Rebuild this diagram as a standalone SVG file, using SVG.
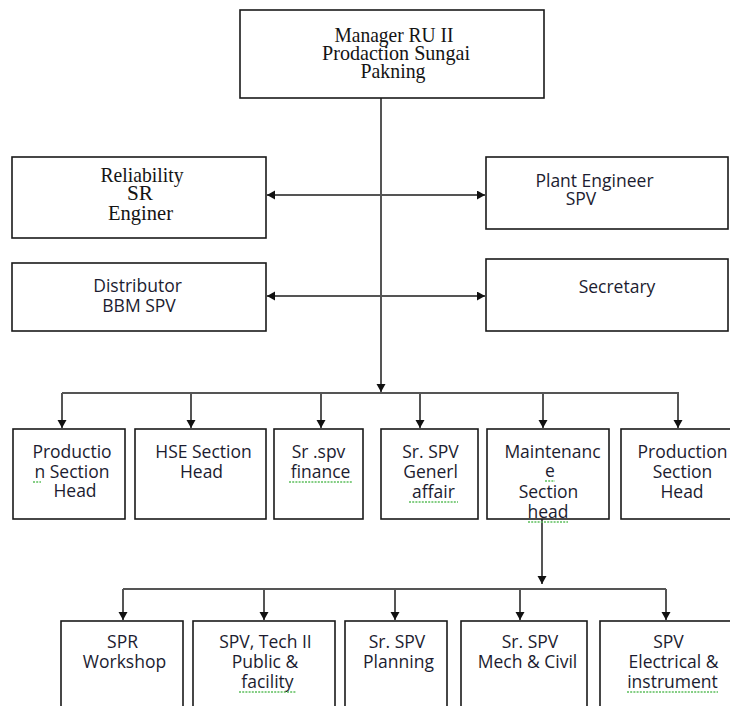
<svg xmlns="http://www.w3.org/2000/svg" width="730" height="706" viewBox="0 0 730 706">
<style>
.box{fill:#fff;stroke:#1a1a1a;stroke-width:1.6}
.serif{font-family:"Liberation Serif","Times New Roman",serif;font-size:22px;fill:#141414;text-anchor:middle}
.sans{font-family:"Open Sans","Noto Sans",sans-serif;font-size:17.5px;fill:#1c1c30;text-anchor:middle}
.con{fill:none;stroke:#555;stroke-width:2}
.sq{fill:none;stroke:#5cbf5c;stroke-width:1.4;stroke-dasharray:2 1.2}
</style>
<defs>
<marker id="ah" markerUnits="userSpaceOnUse" markerWidth="10" markerHeight="10" refX="8" refY="4.5" orient="auto-start-reverse">
<path d="M0,0 L8,4.5 L0,9 Z" fill="#111"/>
</marker>
</defs>
<rect width="730" height="706" fill="#fff"/>

<g id="connectors">
<path class="con" d="M381,98 V392" marker-end="url(#ah)"/>
<path class="con" d="M267,195 H485" marker-start="url(#ah)" marker-end="url(#ah)"/>
<path class="con" d="M267,296 H485" marker-start="url(#ah)" marker-end="url(#ah)"/>
<path class="con" d="M62,393 H679"/>
<path class="con" d="M62,393 V428" marker-end="url(#ah)"/>
<path class="con" d="M191,393 V428" marker-end="url(#ah)"/>
<path class="con" d="M321,393 V428" marker-end="url(#ah)"/>
<path class="con" d="M420,393 V428" marker-end="url(#ah)"/>
<path class="con" d="M543,393 V428" marker-end="url(#ah)"/>
<path class="con" d="M678,393 V428" marker-end="url(#ah)"/>
<path class="con" d="M542,519 V584" marker-end="url(#ah)"/>
<path class="con" d="M123,589 H666"/>
<path class="con" d="M123,589 V620" marker-end="url(#ah)"/>
<path class="con" d="M264,589 V620" marker-end="url(#ah)"/>
<path class="con" d="M395,589 V620" marker-end="url(#ah)"/>
<path class="con" d="M520,589 V620" marker-end="url(#ah)"/>
<path class="con" d="M666,589 V620" marker-end="url(#ah)"/>
</g>

<g id="manager">
<rect class="box" x="240" y="10" width="304" height="88"/>
<text class="serif" x="394" y="42" textLength="119" lengthAdjust="spacingAndGlyphs">Manager RU II</text>
<text class="serif" x="396" y="60" textLength="148" lengthAdjust="spacingAndGlyphs">Prodaction Sungai</text>
<text class="serif" x="393" y="78" textLength="65" lengthAdjust="spacingAndGlyphs">Pakning</text>
</g>

<g id="reliability">
<rect class="box" x="12" y="157" width="254" height="81"/>
<text class="serif" x="142" y="182" textLength="83" lengthAdjust="spacingAndGlyphs">Reliability</text>
<text class="serif" x="140" y="200" textLength="26" lengthAdjust="spacingAndGlyphs">SR</text>
<text class="serif" x="140.5" y="220" textLength="65" lengthAdjust="spacingAndGlyphs">Enginer</text>
</g>

<g id="plant-engineer">
<rect class="box" x="486" y="157" width="242" height="72"/>
<text class="sans" x="594.5" y="187">Plant Engineer</text>
<text class="sans" x="581" y="205">SPV</text>
</g>

<g id="distributor">
<rect class="box" x="12" y="263" width="254" height="68"/>
<text class="sans" x="137.5" y="292">Distributor</text>
<text class="sans" x="139" y="312">BBM SPV</text>
</g>

<g id="secretary">
<rect class="box" x="486" y="259" width="242" height="72"/>
<text class="sans" x="617" y="293">Secretary</text>
</g>

<g id="production-section-head-1">
<rect class="box" x="13" y="429" width="112" height="90"/>
<text class="sans" x="72" y="458">Productio</text>
<text class="sans" x="72" y="478">n Section</text>
<text class="sans" x="75" y="497">Head</text>
<path class="sq" d="M33,482 H41"/>
</g>

<g id="hse-section-head">
<rect class="box" x="135" y="429" width="131" height="90"/>
<text class="sans" x="203.5" y="458">HSE Section</text>
<text class="sans" x="201.5" y="478">Head</text>
</g>

<g id="sr-spv-finance">
<rect class="box" x="274" y="429" width="89" height="90"/>
<text class="sans" x="318.5" y="458">Sr .spv</text>
<text class="sans" x="320.5" y="478">finance</text>
<path class="sq" d="M289,482 H352"/>
</g>

<g id="sr-spv-general-affair">
<rect class="box" x="381" y="429" width="97" height="90"/>
<text class="sans" x="430.5" y="458">Sr. SPV</text>
<text class="sans" x="430.5" y="478">Generl</text>
<text class="sans" x="433.5" y="498">affair</text>
<path class="sq" d="M409,502 H458"/>
</g>

<g id="maintenance-section-head">
<rect class="box" x="487" y="429" width="122" height="90"/>
<text class="sans" x="552.5" y="458">Maintenanc</text>
<text class="sans" x="550" y="477">e</text>
<text class="sans" x="548.5" y="498">Section</text>
<text class="sans" x="548" y="518">head</text>
<path class="sq" d="M545,481 H555"/>
<path class="sq" d="M528,522 H568"/>
</g>

<g id="production-section-head-2">
<rect class="box" x="621" y="429" width="110" height="90"/>
<text class="sans" x="682.5" y="458">Production</text>
<text class="sans" x="682.5" y="478">Section</text>
<text class="sans" x="682" y="498">Head</text>
</g>

<g id="spr-workshop">
<rect class="box" x="61" y="621" width="122" height="100"/>
<text class="sans" x="122.5" y="648">SPR</text>
<text class="sans" x="124.5" y="668">Workshop</text>
</g>

<g id="spv-tech-public-facility">
<rect class="box" x="193" y="621" width="142" height="100"/>
<text class="sans" x="265.5" y="648">SPV, Tech II</text>
<text class="sans" x="265" y="668">Public &amp;</text>
<text class="sans" x="267.5" y="688">facility</text>
<path class="sq" d="M239,692 H296"/>
</g>

<g id="sr-spv-planning">
<rect class="box" x="345" y="621" width="102" height="100"/>
<text class="sans" x="397" y="648">Sr. SPV</text>
<text class="sans" x="398.5" y="668">Planning</text>
</g>

<g id="sr-spv-mech-civil">
<rect class="box" x="461" y="621" width="126" height="100"/>
<text class="sans" x="530" y="648">Sr. SPV</text>
<text class="sans" x="527.5" y="668">Mech &amp; Civil</text>
</g>

<g id="spv-electrical-instrument">
<rect class="box" x="600" y="621" width="140" height="100"/>
<text class="sans" x="668.5" y="648">SPV</text>
<text class="sans" x="673.5" y="668">Electrical &amp;</text>
<text class="sans" x="672.5" y="688">instrument</text>
<path class="sq" d="M627,692 H718"/>
</g>
</svg>
